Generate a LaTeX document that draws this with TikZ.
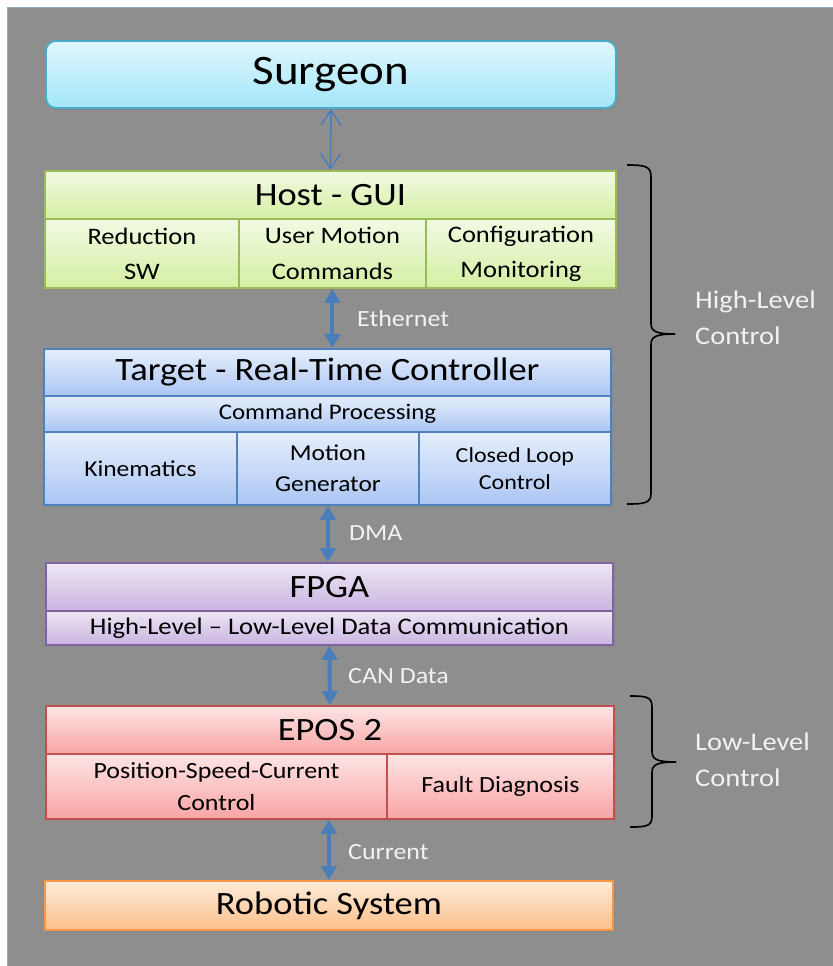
\documentclass[tikz,border=0pt]{standalone}
\usepackage{fontspec}
\setmainfont{Carlito}[FakeStretch=1.12]
\usetikzlibrary{arrows.meta,shadows}

\definecolor{bggray}{RGB}{142,142,142}
\definecolor{bgedge}{HTML}{8FA8C8}
\definecolor{linkblue}{HTML}{4A7EBB}
\definecolor{lbltext}{HTML}{F2F2F2}
% cell colours: top, bottom, border
\definecolor{surgT}{HTML}{DFF7FE}\definecolor{surgB}{HTML}{A3E6F9}\definecolor{surgD}{HTML}{4BACC6}
\definecolor{hostT}{HTML}{F1FAE3}\definecolor{hostB}{HTML}{D5EFA3}\definecolor{hostD}{HTML}{9BBB59}
\definecolor{tgtT}{HTML}{E6EEFC}\definecolor{tgtB}{HTML}{ABC6F3}\definecolor{tgtD}{HTML}{4F81BD}
\definecolor{fpgaT}{HTML}{EEE7F5}\definecolor{fpgaB}{HTML}{C9B4E0}\definecolor{fpgaD}{HTML}{8064A2}
\definecolor{eposT}{HTML}{FDE5E5}\definecolor{eposB}{HTML}{F8A4A4}\definecolor{eposD}{HTML}{C0504D}
\definecolor{robT}{HTML}{FDEBDA}\definecolor{robB}{HTML}{FBC08A}\definecolor{robD}{HTML}{F79646}

\tikzset{
    cell/.style={draw, line width=1.6pt, inner sep=0pt, align=center, anchor=north west, text=black,
        drop shadow={opacity=0.35, shadow xshift=2pt, shadow yshift=-2pt}},
    wh/.style 2 args={minimum width=#1*0.03cm, minimum height=#2*0.03cm},
    surgcell/.style={cell, draw=surgD, top color=surgT, bottom color=surgB, rounded corners=0.3cm},
    hostcell/.style={cell, draw=hostD, top color=hostT, bottom color=hostB},
    tgtcell/.style={cell, draw=tgtD, top color=tgtT, bottom color=tgtB},
    fpgacell/.style={cell, draw=fpgaD, top color=fpgaT, bottom color=fpgaB},
    eposcell/.style={cell, draw=eposD, top color=eposT, bottom color=eposB},
    robcell/.style={cell, draw=robD, top color=robT, bottom color=robB},
    title/.style={font=\fontsize{27.8}{32}\selectfont},
    bus/.style={linkblue, line width=3.4pt, {Triangle[width=0.46cm,length=0.42cm]}-{Triangle[width=0.46cm,length=0.42cm]}},
    thinbus/.style={linkblue, line width=1.3pt, {Straight Barb[width=0.6cm,length=0.45cm]}-{Straight Barb[width=0.6cm,length=0.45cm]}},
    lbl/.style={anchor=west, inner sep=0pt, text=lbltext, font=\fontsize{19.8}{24}\selectfont},
    grp/.style={anchor=west, inner sep=0pt, align=left, text=lbltext, font=\fontsize{21.7}{31}\selectfont},
    brc/.style={black, line width=1.4pt}
}

\begin{document}
\begin{tikzpicture}[x=0.03cm, y=-0.03cm]
    \useasboundingbox (0,0) rectangle (833,966);
    \fill[bggray] (7,7) rectangle (833,966);
    \draw[bgedge, line width=0.8pt] (7,966) -- (7,7) -- (833,7);
    % Surgeon
        \node[surgcell, wh={570}{67}, font=\fontsize{35.8}{40}\selectfont] (surgeon) at (45,40) {Surgeon};
    % Host
        \node[hostcell, wh={571}{48}, title] (host) at (44,170) {Host - GUI};
        \node[hostcell, wh={194}{69}, font=\fontsize{20.2}{30}\selectfont] (hostA) at (44,218) {Reduction\\SW};
        \node[hostcell, wh={187}{69}, font=\fontsize{20.2}{30}\selectfont] (hostB) at (238,218) {User Motion\\Commands};
        \node[hostcell, wh={190}{69}, font=\fontsize{20.2}{30}\selectfont] (hostC) at (425,218) {Configuration\\Monitoring};
    % Target
        \node[tgtcell, wh={567}{47}, title] (tgt) at (43,348) {Target - Real-Time Controller};
        \node[tgtcell, wh={567}{36}, font=\fontsize{19}{24}\selectfont] (cmd) at (43,395) {Command Processing};
        \node[tgtcell, wh={193}{73}, font=\fontsize{19.4}{26.5}\selectfont] (tgtA) at (43,431) {Kinematics};
        \node[tgtcell, wh={182}{73}, font=\fontsize{19.4}{26.5}\selectfont] (tgtB) at (236,431) {Motion\\Generator};
        \node[tgtcell, wh={192}{73}, font=\fontsize{18.3}{23.5}\selectfont] (tgtC) at (418,431) {Closed Loop\\Control};
    % FPGA
        \node[fpgacell, wh={567}{48}, title] (fpga) at (45,562) {FPGA};
        \node[fpgacell, wh={567}{34}, font=\fontsize{20.3}{24}\selectfont] (fpgaA) at (45,610) {High-Level -- Low-Level Data Communication};
    % EPOS
        \node[eposcell, wh={568}{48}, title] (epos) at (45,705) {EPOS 2};
        \node[eposcell, wh={341}{65}, font=\fontsize{19.8}{27}\selectfont] (eposA) at (45,753) {Position-Speed-Current\\Control};
        \node[eposcell, wh={227}{65}, font=\fontsize{19.8}{27}\selectfont] (eposB) at (386,753) {Fault Diagnosis};
    % Robotic system
        \node[robcell, wh={568}{49}, title] (robot) at (44,880) {Robotic System};
    % Links
        \draw[thinbus] (surgeon.south) -- (host.north);
        \draw[bus] (hostB.south) -- (hostB.south |- tgt.north);
        \draw[bus] (tgtB.south) -- (tgtB.south |- fpga.north);
        \draw[bus] (fpgaA.south) -- (epos.north);
        \draw[bus] (robot.north |- eposA.south) -- (robot.north);
        \node[lbl] (eth) at (357,319) {Ethernet};
        \node[lbl] (dma) at (349,533) {DMA};
        \node[lbl] (can) at (348,676) {CAN Data};
        \node[lbl] (cur) at (348,852) {Current};
    % Braces
        \draw[brc] (627,165) .. controls (645,165) and (651,166) .. (651,177) -- (651,323)
            .. controls (651,331) and (655,334) .. (675,334);
        \draw[brc] (675,334) .. controls (655,334) and (651,337) .. (651,345) -- (651,493)
            .. controls (651,503) and (645,504) .. (627,504);
        \node[grp] (high) at (695,318) {High-Level\\Control};
        \draw[brc] (630,696) .. controls (647,696) and (652,697) .. (652,707) -- (652,751)
            .. controls (652,759) and (656,762) .. (676,762);
        \draw[brc] (676,762) .. controls (656,762) and (652,765) .. (652,773) -- (652,816)
            .. controls (652,826) and (647,827) .. (630,827);
        \node[grp] (low) at (695,760) {Low-Level\\Control};
\end{tikzpicture}
\end{document}
